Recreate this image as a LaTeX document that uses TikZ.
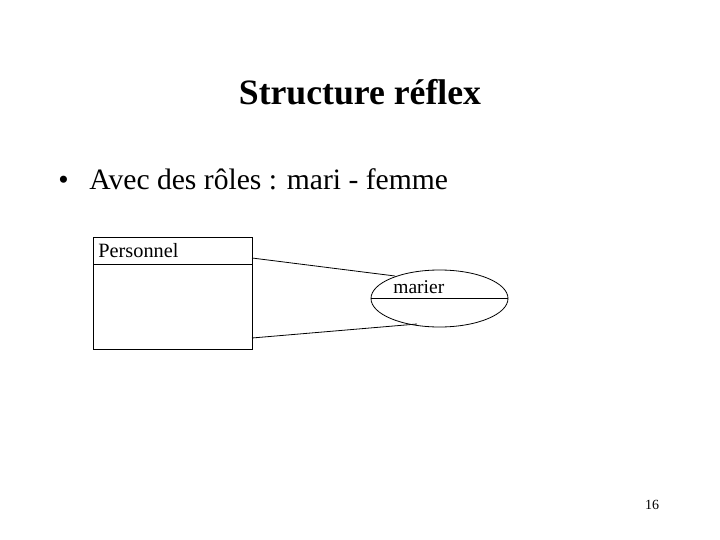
\documentclass[tikz,border=0pt]{standalone}
\usepackage{fontspec}
\setmainfont{Liberation Serif}
\usetikzlibrary{shapes.geometric}
\begin{document}
\begin{tikzpicture}[x=1pt,y=-1pt,line width=0.8pt,
  lbl/.style={inner sep=0pt,anchor=base west}]
\useasboundingbox (0,0) rectangle (720,540);
\node[lbl,anchor=base] (title) at (360,105) {\fontsize{35.7}{40}\selectfont\bfseries Structure réflex};
\node[lbl] (dot) at (58,190) {\fontsize{29.6}{34}\selectfont •};
\node[lbl] (bullet) at (89,190) {\fontsize{29.6}{34}\selectfont Avec des rôles : mari - femme};
\draw (93,237) rectangle (252,349);
\coordinate (bl) at (93,264);
\coordinate (br) at (252,264);
\draw (bl) -- (br);
\node[lbl] (pers) at (98,258) {\fontsize{20.3}{24}\selectfont Personnel};
\node[draw,ellipse,minimum width=137pt,minimum height=57pt,inner sep=0pt] (ell) at (439.5,298.5) {};
\draw (ell.west) -- (ell.east);
\node[lbl] (mar) at (393,293) {\fontsize{19.5}{22}\selectfont marier};
\coordinate (a1) at (252,258);
\coordinate (a2) at (252,338);
\draw (a1) -- (395,276);
\draw (a2) -- (417,324);
\node[lbl,anchor=base] (num) at (652,509) {\fontsize{14}{16}\selectfont 16};
\end{tikzpicture}
\end{document}
